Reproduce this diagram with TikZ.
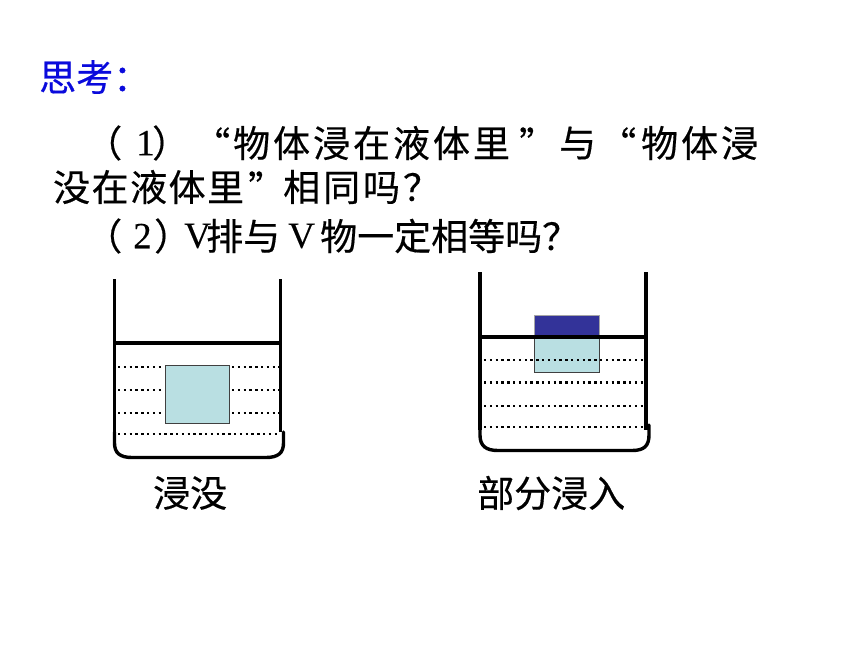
\documentclass[tikz,border=0pt]{standalone}
\usepackage{fontspec}
\setmainfont{Noto Sans CJK SC}
\newfontfamily\widefont[LetterSpace=8,FakeBold=0.4]{Noto Sans CJK SC}
\newfontfamily\midfont[LetterSpace=4,FakeBold=0.4]{Noto Sans CJK SC}
\newfontfamily\tightfont[FakeBold=0.4]{Noto Sans CJK SC}
\newfontfamily\latinfont[FakeBold=0.2]{Liberation Serif}
\definecolor{boxlight}{HTML}{B9DFE2}
\definecolor{boxnavy}{HTML}{333399}
\definecolor{headblue}{HTML}{0A0ADC}
\tikzset{
  x=1pt,y=-1pt,
  wall/.style={line width=3.2pt,black},
  rim/.style={line width=3.4pt,black,line cap=round},
  dots/.style={line width=2.4pt,black,dash pattern=on 2.4pt off 3.4pt},
  body/.style={anchor=west,inner sep=0pt,font=\widefont\fontsize{37}{37}\selectfont,text=black},
  mid/.style={anchor=west,inner sep=0pt,font=\midfont\fontsize{37}{37}\selectfont,text=black},
  tight/.style={anchor=west,inner sep=0pt,font=\tightfont\fontsize{37}{37}\selectfont,text=black},
  latin/.style={anchor=west,inner sep=0pt,font=\latinfont\fontsize{37}{37}\selectfont,text=black},
  block/.style={draw=black!75,line width=0.9pt}
}
\begin{document}
\begin{tikzpicture}
\useasboundingbox[fill=white] (0,0) rectangle (860,645);
% texts
\node[tight,text=headblue] (head) at (39,77) {思考：};
\node[tight] (l1p) at (85,143) {（};
\node[latin] (l1n) at (136,143) {1};
\node[tight] (l1q) at (152,143) {）};
\node[tight] (l1r) at (193,143) {“};
\node[body] (l1a) at (233,143) {物体浸在液体里};
\node[tight] (l1s) at (519,143) {”};
\node[tight] (l1t) at (559,143) {与};
\node[tight] (l1u) at (599,143) {“};
\node[body] (l1b) at (641,143) {物体浸};
\node[mid] (l2a) at (53,187) {没在液体里};
\node[tight] (l2s) at (248,187) {”};
\node[body] (l2b) at (283,187) {相同吗？};
\node[tight] (l3p) at (85,236) {（};
\node[latin] (l3n) at (133,236) {2};
\node[tight] (l3q) at (154,236) {）};
\node[latin] (l3v) at (184,236) {V};
\node[tight] (l3c) at (206,236) {排与};
\node[latin] (l3w) at (288,236) {V};
\node[tight] (l3e) at (320,236) {物一定相等吗？};
\node[tight] (cap1) at (153,493) {浸没};
\node[tight] (cap2) at (477,493) {部分浸入};
% left beaker
\foreach \y in {367,390,413}{
  \draw[dots] (118,\y) -- (164,\y);
  \draw[dots] (232,\y) -- (279,\y);
}
\draw[dots] (118,434) -- (279,434);
\draw[block,fill=boxlight] (165,365) rectangle (229,423);
\draw[wall] (114.5,279) -- (114.5,432);
\draw[wall] (280.5,279) -- (280.5,432);
\draw[wall] (114.5,343) -- (280.5,343);
\draw[rim] (114.5,432) -- (114.5,443) .. controls (114.5,453) and (120,457.5) .. (132,457.5) -- (266,457.5) .. controls (278,457.5) and (283.5,453) .. (283.5,443) -- (283.5,432);
% right beaker
\fill[boxnavy] (534,315) rectangle (599,337);
\draw[black!35,line width=0.9pt] (534,337) -- (534,315) -- (599,315) -- (599,337);
\draw[block,fill=boxlight] (534,337) rectangle (599,372);
\foreach \y in {360,382.5,406,427}{
  \draw[dots] (484,\y) -- (644,\y);
}
\draw[wall] (480,272) -- (480,430);
\draw[wall] (646,272) -- (646,430);
\draw[wall] (480,337) -- (646,337);
\draw[rim] (480,425) -- (480,435) .. controls (480,446) and (486,450.5) .. (498,450.5) -- (632,450.5) .. controls (644,450.5) and (649,446) .. (649,435) -- (649,425);
\end{tikzpicture}
\end{document}
